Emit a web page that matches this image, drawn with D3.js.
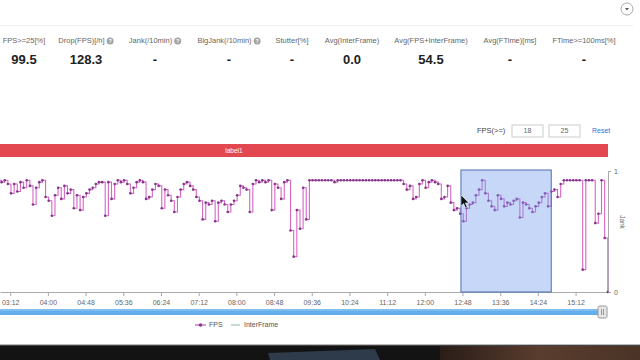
<!DOCTYPE html>
<html><head><meta charset="utf-8">
<script src="https://cdn.jsdelivr.net/npm/d3@7"></script>
<style>html,body{margin:0;padding:0;background:#fff;overflow:hidden}svg{display:block;font-family:Helvetica,Arial,"Liberation Sans",sans-serif}</style>
</head><body><svg id="c" width="640" height="360"></svg>
<script>
// ---------- data ----------
const statLabels = ["FPS>=25[%]","Drop(FPS)[/h]","Jank(/10min)","BigJank(/10min)","Stutter[%]","Avg(InterFrame)","Avg(FPS+InterFrame)","Avg(FTime)[ms]","FTime>=100ms[%]"];
const statValues = ["99.5","128.3","-","-","-","0.0","54.5","-","-"];
const statHelp = [false,true,true,true,false,false,false,false,false];
const fpsThresholds = ["18","25"];
const timeTicks = ["03:12","04:00","04:48","05:36","06:24","07:12","08:00","08:48","09:36","10:24","11:12","12:00","12:48","13:36","14:24","15:12"];
const jankTicks = [0,1];
const labelNames = ["label1"];
const labelRanges = [[2, 952]];
const selectionRange = [766, 881];
const fpsStart = 177, fpsStep = 4;
const fpsValues = [
 60,59,60,58,53,58,54,59,56,60,
 57,47,56,59,60,51,49,41,52,56,
 50,57,53,55,45,52,44,51,53,55,
 56,58,59,59,41,59,50,58,60,59,
 60,58,53,56,59,60,59,50,51,55,
 58,57,45,55,52,49,43,51,55,58,
 59,57,55,51,49,39,48,47,49,38,
 48,49,47,43,47,49,52,57,56,55,
 43,58,60,59,60,59,60,44,58,56,
 50,59,60,33,19,44,34,56,39,60,
 60,60,60,60,60,60,60,59,60,60,
 60,60,60,60,60,60,60,60,60,60,
 60,60,60,60,60,60,60,60,60,58,
 55,57,50,51,58,60,56,59,60,59,
 58,50,51,57,48,44,45,42,38,45,
 47,48,52,55,60,53,49,46,44,52,
 50,46,48,47,49,50,40,48,47,45,
 43,46,48,51,53,46,54,55,51,58,
 60,60,60,60,60,60,12,60,60,60,
 37,42,60,29,0
];
const legendNames = ["FPS","InterFrame"];

// ---------- layout ----------
const statCenters = [24,86,155,229,292,352,431,510,584];
const plot = {left:0, right:607, top:171, bottom:292};
const svg = d3.select("#c");
const parseT = s => { const [m,ss] = s.split(":").map(Number); return m*60+ss; };

const x = d3.scaleLinear().domain([179, 952]).range([plot.left, plot.right]);
const yF = d3.scaleLinear().domain([0,65]).range([plot.bottom, plot.top]);
const yJ = d3.scaleLinear().domain([0,1]).range([plot.bottom, plot.top]);

// top line & dropdown
svg.append("line").attr("x1",0).attr("x2",633).attr("y1",25.5).attr("y2",25.5).attr("stroke","#eee");
svg.append("circle").attr("cx",627).attr("cy",9).attr("r",6).attr("fill","#fff").attr("stroke","#aaa");
svg.append("path").attr("d","M625,8 L629,8 L627,10.5 Z").attr("fill","#555");

// stats
const sg = svg.append("g");
statLabels.forEach((lab,i)=>{
  const g = sg.append("g");
  const t = g.append("text").attr("x",0).attr("y",41).attr("dominant-baseline","middle")
    .attr("font-size",7.5).attr("fill","#666").text(lab);
  let w = t.node().getComputedTextLength();
  if (statHelp[i]) {
    g.append("circle").attr("cx",w+5.5).attr("cy",41).attr("r",3.5).attr("fill","#a3a3a3");
    g.append("text").attr("x",w+5.5).attr("y",41.3).attr("text-anchor","middle").attr("dominant-baseline","middle")
      .attr("font-size",5.5).attr("font-weight","bold").attr("fill","#fff").text("?");
    w += 9;
  }
  g.attr("transform",`translate(${statCenters[i]-w/2},0)`);
  sg.append("text").attr("x",statCenters[i]).attr("y",61).attr("text-anchor","middle").attr("dominant-baseline","middle")
    .attr("font-size",13).attr("font-weight","bold").attr("fill","#222").text(statValues[i]);
});

// FPS threshold controls
svg.append("text").attr("x",477).attr("y",131).attr("dominant-baseline","middle").attr("font-size",7.5).attr("fill","#444").text("FPS(>=)");
fpsThresholds.forEach((v,i)=>{
  const bx = 512 + i*37;
  svg.append("rect").attr("x",bx).attr("y",125).attr("width",31).attr("height",12).attr("fill","#fff").attr("stroke","#ccc");
  svg.append("text").attr("x",bx+15.5).attr("y",131.3).attr("text-anchor","middle").attr("dominant-baseline","middle")
    .attr("font-size",7).attr("fill","#666").text(v);
});
svg.append("text").attr("x",592).attr("y",131).attr("dominant-baseline","middle").attr("font-size",7).attr("fill","#3b6fd6").text("Reset");

// clip
svg.append("clipPath").attr("id","pc").append("rect").attr("x",0).attr("y",100).attr("width",608.5).attr("height",200);

// label ribbon
const lg = svg.append("g").attr("clip-path","url(#pc)");
labelNames.forEach((n,i)=>{
  const [a,b] = labelRanges[i];
  lg.append("rect").attr("x",x(a)).attr("y",144).attr("width",x(b)-x(a)+1).attr("height",13).attr("fill","#e34850");
  lg.append("text").attr("x",(x(a)+x(b))/2).attr("y",151).attr("text-anchor","middle").attr("dominant-baseline","middle")
    .attr("font-size",6.5).attr("fill","#fff").text(n);
});

// x axis
const xAxis = d3.axisBottom(x).tickValues(timeTicks.map(parseT)).tickFormat((d,i)=>timeTicks[i]).tickSize(4).tickSizeOuter(0);
const xg = svg.append("g").attr("transform",`translate(0,${plot.bottom})`).call(xAxis);
xg.select(".domain").attr("stroke","#aaa");
xg.selectAll(".tick line").attr("stroke","#aaa");
xg.selectAll(".tick text").attr("font-size",7).attr("fill","#666").attr("font-family","Helvetica,Arial,'Liberation Sans',sans-serif").attr("dy","0.85em");

// right axis (Jank)
const yAxis = d3.axisRight(yJ).tickValues(jankTicks).tickFormat(d3.format("d")).tickSize(3).tickSizeOuter(0);
const yg = svg.append("g").attr("transform",`translate(${plot.right+1},0)`).call(yAxis);
yg.select(".domain").attr("stroke","#aaa");
yg.selectAll(".tick line").attr("stroke","#aaa");
yg.selectAll(".tick text").attr("font-size",7).attr("fill","#666").attr("font-family","Helvetica,Arial,'Liberation Sans',sans-serif");
svg.append("text").attr("transform",`translate(622,222) rotate(90)`).attr("text-anchor","middle").attr("dominant-baseline","middle")
  .attr("font-size",6.5).attr("fill","#666").text("Jank");

// FPS series
const pts = fpsValues.map((v,i)=>({t:fpsStart+i*fpsStep, v}));
const pg = svg.append("g").attr("clip-path","url(#pc)");
pg.append("path").datum(pts)
  .attr("d", d3.line().x(d=>x(d.t)).y(d=>yF(d.v)).curve(d3.curveStepAfter))
  .attr("fill","none").attr("stroke","#d466c8").attr("stroke-width",1.1);
pg.selectAll("circle").data(pts).join("circle")
  .attr("cx",d=>x(d.t)).attr("cy",d=>yF(d.v)).attr("r",1.3).attr("fill","#86368a");

// selection brush
svg.append("rect").attr("x",x(selectionRange[0])).attr("y",170).attr("width",x(selectionRange[1])-x(selectionRange[0])).attr("height",plot.bottom-170)
  .attr("fill","rgba(120,160,235,0.42)").attr("stroke","#4f6fae").attr("stroke-width",1);

// cursor
svg.append("path").attr("d","M461,195 L461,206 L463.6,203.6 L465.5,207.8 L467.2,207 L465.3,202.9 L468.8,202.9 Z")
  .attr("fill","#111").attr("stroke","#fff").attr("stroke-width",0.5);

// data zoom slider
svg.append("rect").attr("x",0).attr("y",309).attr("width",598).attr("height",6).attr("fill","#62adea");
svg.append("line").attr("x1",0).attr("x2",598).attr("y1",310).attr("y2",310).attr("stroke","#9fd0f5").attr("stroke-width",1);
svg.append("rect").attr("x",598).attr("y",306).attr("width",9).attr("height",12).attr("rx",1.5).attr("fill","#e6e6e6").attr("stroke","#999");
svg.append("line").attr("x1",601.5).attr("x2",601.5).attr("y1",309).attr("y2",315).attr("stroke","#999");
svg.append("line").attr("x1",603.5).attr("x2",603.5).attr("y1",309).attr("y2",315).attr("stroke","#999");

// legend
const legY = 325;
svg.append("line").attr("x1",195).attr("x2",206).attr("y1",legY).attr("y2",legY).attr("stroke","#c05cb5").attr("stroke-width",1.2);
svg.append("circle").attr("cx",200.5).attr("cy",legY).attr("r",1.8).attr("fill","#8a3a8c");
svg.append("text").attr("x",209).attr("y",legY).attr("dominant-baseline","middle").attr("font-size",7).attr("fill","#555").text(legendNames[0]);
svg.append("line").attr("x1",231).attr("x2",240).attr("y1",legY).attr("y2",legY).attr("stroke","#8fb3b0").attr("stroke-width",1);
svg.append("text").attr("x",244).attr("y",legY).attr("dominant-baseline","middle").attr("font-size",7).attr("fill","#555").text(legendNames[1]);

// bottom photo strip
const defs = svg.append("defs");
const gr = defs.append("linearGradient").attr("id","br").attr("x1","0").attr("x2","1");
gr.append("stop").attr("offset","0").attr("stop-color","#2a1d18");
gr.append("stop").attr("offset","0.5").attr("stop-color","#5a3d2e");
gr.append("stop").attr("offset","1").attr("stop-color","#4a3327");
svg.append("rect").attr("x",0).attr("y",345).attr("width",640).attr("height",15).attr("fill","#131313");
svg.append("rect").attr("x",440).attr("y",346).attr("width",200).attr("height",14).attr("fill","url(#br)");
svg.append("path").attr("d","M268,353 L375,349 L380,360 L270,360 Z").attr("fill","#2d3b4a");
svg.append("line").attr("x1",0).attr("x2",640).attr("y1",345).attr("y2",345).attr("stroke","#777");
</script></body></html>
